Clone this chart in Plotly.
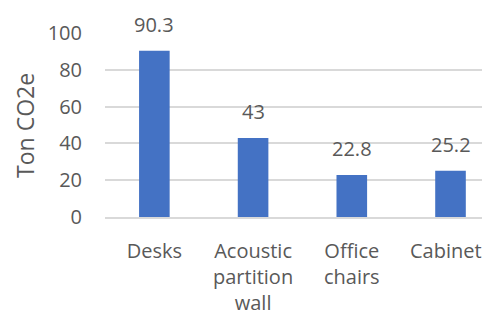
import plotly.graph_objects as go

categories = ["Desks", "Acoustic<br>partition<br>wall", "Office<br>chairs", "Cabinets"]
values = [90.3, 43, 22.8, 25.2]
value_labels = ["90.3", "43", "22.8", "25.2"]
y_ticks = [0, 20, 40, 60, 80, 100]
y_title = "Ton CO2e"

FONT = "Open Sans"
TXT = "#595959"
FS = 20

fig = go.Figure()
fig.add_trace(go.Bar(
    x=categories, y=values,
    marker=dict(color="#4472C4", line=dict(width=0)),
    showlegend=False,
))

for c, v, t in zip(categories, values, value_labels):
    fig.add_annotation(x=c, y=v, text=t, showarrow=False, yanchor="bottom",
                       yshift=11, font=dict(family=FONT, size=FS, color=TXT))

fig.add_annotation(text=y_title, xref="paper", yref="paper", x=-0.208, y=0.5,
                   xanchor="center", yanchor="middle", textangle=-90, showarrow=False,
                   font=dict(family=FONT, size=23, color=TXT))

fig.update_layout(
    width=482, height=306,
    margin=dict(l=97, r=0, t=25, b=97),
    paper_bgcolor="white", plot_bgcolor="white",
    bargap=0.69,
    font=dict(family=FONT, size=FS, color=TXT),
    xaxis=dict(
        range=[-0.5, 3.40], automargin=False,
        showgrid=False, showline=True, linecolor="#d9d9d9", linewidth=1.5,
        ticks="", ticklabelstandoff=15,
        tickfont=dict(family=FONT, size=FS, color=TXT),
    ),
    yaxis=dict(
        range=[0, 100], tickvals=y_ticks, automargin=False,
        showgrid=True, gridcolor="#d9d9d9", gridwidth=1.5,
        zeroline=False, showline=False, ticks="",
        ticklabelstandoff=22,
        tickfont=dict(family=FONT, size=FS, color=TXT),
    ),
)

fig.write_html("out.html")
